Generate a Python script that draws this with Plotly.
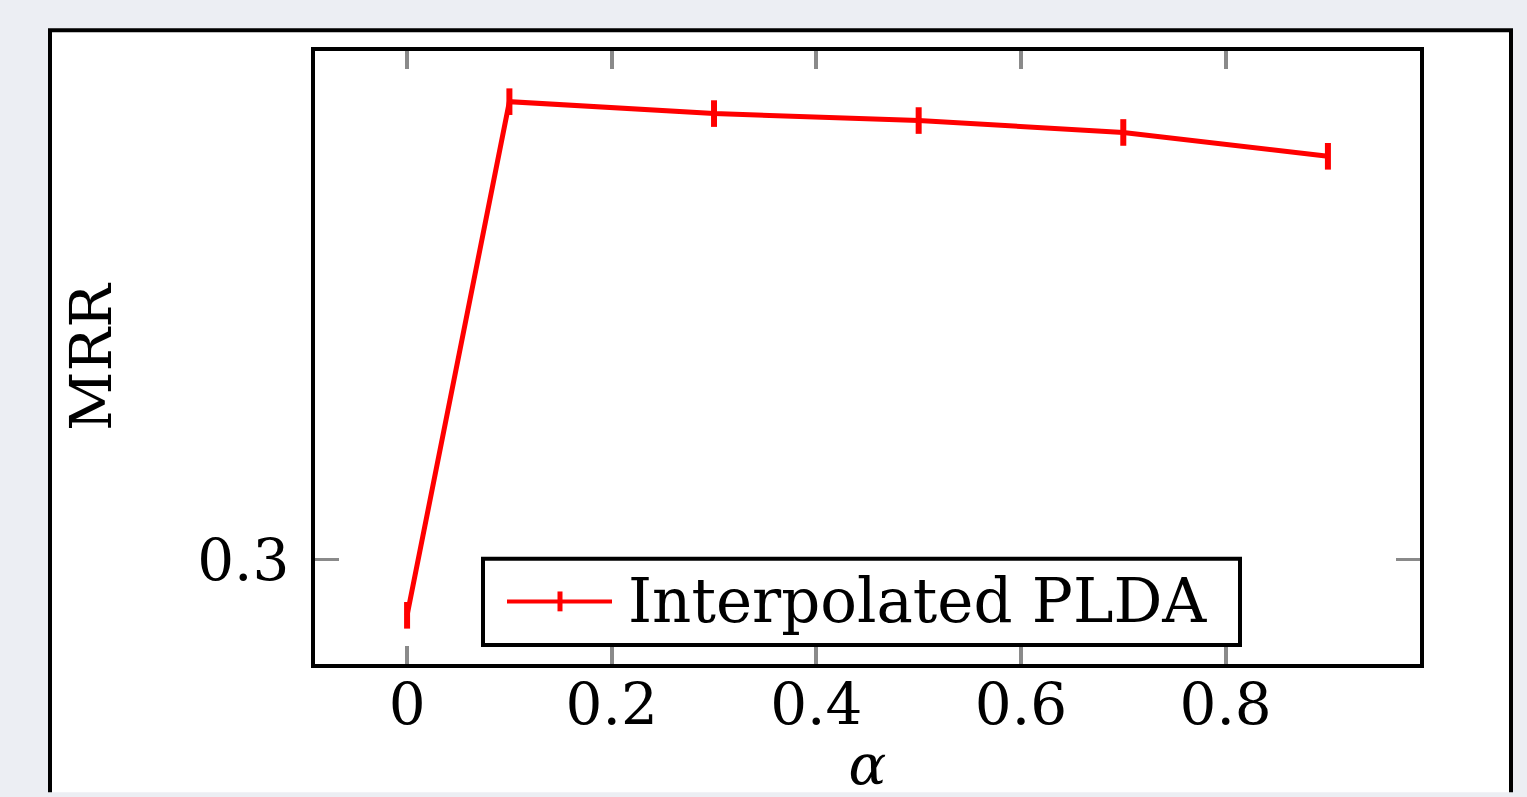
import plotly.graph_objects as go

# ---- data ----
alpha = [0.0, 0.1, 0.3, 0.5, 0.7, 0.9]
mrr = [0.2944, 0.3461, 0.3449, 0.3442, 0.3430, 0.3406]
series_name = "Interpolated PLDA"
x_tick_vals = [0, 0.2, 0.4, 0.6, 0.8]
x_tick_text = ["0", "0.2", "0.4", "0.6", "0.8"]
y_tick_vals = [0.3]
y_tick_text = ["0.3"]

W, H = 1527, 797
L, R, T, B = 315, 1420, 51, 668  # plot area in pixels


def px(x):
    return (x - L) / (R - L)


def py(y):
    return (B - y) / (B - T)


FONT = "DejaVu Serif"
RED = "#ff0000"
BG = "#eceef3"

fig = go.Figure()
fig.add_trace(go.Scatter(
    x=alpha, y=mrr, mode="lines+markers", name=series_name,
    line=dict(color=RED, width=5),
    marker=dict(symbol="line-ns", size=19, color=RED,
                line=dict(color=RED, width=6)),
    showlegend=False,
))

shapes = [
    # outer white framed box (its bottom edge runs off the page)
    dict(type="rect", xref="paper", yref="paper", layer="below",
         x0=px(50), x1=px(1511), y0=py(H), y1=py(30),
         line=dict(width=0), fillcolor="white"),
    dict(type="path", xref="paper", yref="paper", layer="below",
         path=(f"M {px(50)},{py(H)} L {px(50)},{py(30)} "
               f"L {px(1511)},{py(30)} L {px(1511)},{py(H)}"),
         line=dict(color="black", width=4)),
    # legend box
    dict(type="rect", xref="paper", yref="paper", layer="above",
         x0=px(483), x1=px(1240), y0=py(649), y1=py(562),
         line=dict(color="black", width=4), fillcolor="white"),
    # legend sample line
    dict(type="line", xref="paper", yref="paper", layer="above",
         x0=px(507), x1=px(612), y0=py(605), y1=py(605),
         line=dict(color=RED, width=4)),
    # legend sample marker
    dict(type="line", xref="paper", yref="paper", layer="above",
         x0=px(560), x1=px(560), y0=py(615), y1=py(595),
         line=dict(color=RED, width=5)),
]

annotations = [
    dict(text=series_name, xref="paper", yref="paper",
         x=px(626), y=py(604), xanchor="left", yanchor="middle",
         showarrow=False, font=dict(family=FONT, size=61, color="black")),
]

fig.update_layout(
    width=W, height=H, autosize=False,
    margin=dict(l=L, r=W - R, t=T, b=H - B, pad=0),
    paper_bgcolor=BG,
    plot_bgcolor="white",
    shapes=shapes,
    annotations=annotations,
    font=dict(family=FONT, size=58, color="black"),
    xaxis=dict(
        range=[-0.09, 0.99], tickvals=x_tick_vals, ticktext=x_tick_text,
        showgrid=False, zeroline=False,
        showline=True, mirror="ticks", linecolor="black", linewidth=4,
        ticks="inside", ticklen=18, tickwidth=4, tickcolor="#8a8a8a",
        ticklabelstandoff=-14,
        tickfont=dict(family=FONT, size=58, color="black"),
        title=dict(text="<i>α</i>", font=dict(family=FONT, size=56, color="black"),
                   standoff=8),
    ),
    yaxis=dict(
        range=[0.2895, 0.3512], tickvals=y_tick_vals, ticktext=y_tick_text,
        showgrid=False, zeroline=False,
        showline=True, mirror="ticks", linecolor="black", linewidth=4,
        ticks="inside", ticklen=24, tickwidth=3, tickcolor="#8a8a8a",
        ticklabelstandoff=10,
        tickfont=dict(family=FONT, size=58, color="black"),
        title=dict(text="MRR", font=dict(family=FONT, size=58, color="black"),
                   standoff=68),
    ),
)

post = (
    "var de=document.documentElement, bd=document.body;"
    "de.style.margin='0';de.style.background='" + BG + "';"
    "bd.style.margin='0';bd.style.background='" + BG + "';"
    "document.querySelectorAll('.plotly-graph-div, .svg-container, .main-svg')"
    ".forEach(function(e){e.style.overflow='hidden';});"
)

fig.write_html("out.html", config={"displayModeBar": False}, post_script=post)
